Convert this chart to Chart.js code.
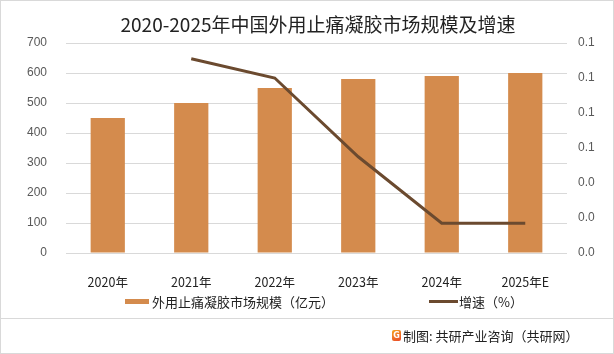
<!DOCTYPE html>
<html>
<head>
<meta charset="utf-8">
<script src="https://cdn.jsdelivr.net/npm/chart.js@4"></script>
<style>
  body { margin: 0; background: #fff; }
  #wrap { width: 614px; height: 354px; position: relative; }
</style>
</head>
<body>
<div id="wrap"><canvas id="marketChart" width="614" height="354"></canvas></div>
<script>
const years = ['2020年', '2021年', '2022年', '2023年', '2024年', '2025年E'];
const marketSize = [450, 500, 550, 580, 590, 600];
const growthRate = [null, 0.111, 0.100, 0.055, 0.017, 0.017];
const titleText = '2020-2025年中国外用止痛凝胶市场规模及增速';
const sizeLabel = '外用止痛凝胶市场规模（亿元）';
const rateLabel = '增速（%）';
const sourceText = '制图: 共研产业咨询（共研网）';

const barColor = '#D48B4D';
const lineColor = '#6B4A2F';
const cjk = '"Noto Sans CJK SC", "Noto Sans", sans-serif';

const decor = {
  id: 'decor',
  afterDraw(chart) {
    const c = chart.ctx;
    c.save();
    // frame
    c.strokeStyle = '#d9d9d9';
    c.lineWidth = 1;
    c.strokeRect(0.5, 0.5, 613, 353);
    c.beginPath();
    c.moveTo(0, 318.5);
    c.lineTo(614, 318.5);
    c.stroke();

    // title
    c.fillStyle = '#222';
    c.font = '19px ' + cjk;
    c.textAlign = 'center';
    c.textBaseline = 'middle';
    c.fillText(titleText, 318, 25);

    // legend
    c.font = '13px ' + cjk;
    c.textAlign = 'left';
    c.fillStyle = barColor;
    c.fillRect(125, 299, 24, 5);
    c.fillStyle = '#222';
    c.fillText(sizeLabel, 152, 302);
    c.strokeStyle = lineColor;
    c.lineWidth = 3;
    c.beginPath();
    c.moveTo(429, 301.5);
    c.lineTo(458, 301.5);
    c.stroke();
    c.fillText(rateLabel, 459, 302);

    // source
    const g = c.createLinearGradient(393, 330, 400, 342);
    g.addColorStop(0, '#F6A21E');
    g.addColorStop(1, '#E8452C');
    c.fillStyle = g;
    c.beginPath();
    c.roundRect(392, 330, 9, 11, 2);
    c.fill();
    c.fillStyle = '#fff';
    c.font = 'bold 8px "DejaVu Sans", sans-serif';
    c.textAlign = 'center';
    c.fillText('G', 396.5, 336);
    c.fillStyle = '#222';
    c.font = '13px ' + cjk;
    c.textAlign = 'left';
    c.fillText(sourceText, 403, 336);
    c.restore();
  }
};

new Chart(document.getElementById('marketChart'), {
  data: {
    labels: years,
    datasets: [
      {
        type: 'line',
        label: rateLabel,
        data: growthRate,
        yAxisID: 'y1',
        borderColor: lineColor,
        borderWidth: 3,
        pointRadius: 0,
        tension: 0,
        order: 0
      },
      {
        type: 'bar',
        label: sizeLabel,
        data: marketSize,
        yAxisID: 'y',
        backgroundColor: barColor,
        barPercentage: 0.82,
        categoryPercentage: 0.5,
        order: 1
      }
    ]
  },
  options: {
    responsive: false,
    animation: false,
    layout: { padding: { top: 43, bottom: 65, left: 0, right: 0 } },
    plugins: {
      legend: { display: false },
      title: { display: false },
      tooltip: { enabled: false }
    },
    scales: {
      x: {
        grid: { display: false },
        border: { display: false },
        ticks: {
          color: '#222',
          font: { size: 12.5, family: cjk },
          padding: 14,
          maxRotation: 0
        },
        afterFit(s) { s.height = 36; }
      },
      y: {
        position: 'left',
        min: 0,
        max: 700,
        ticks: {
          stepSize: 100,
          color: '#595959',
          font: { size: 12, family: 'Liberation Sans, Arial, sans-serif' },
          padding: 19
        },
        grid: { color: '#d9d9d9', drawTicks: false },
        border: { display: false },
        afterFit(s) { s.width = 66; }
      },
      y1: {
        position: 'right',
        min: 0,
        max: 0.12,
        ticks: {
          stepSize: 0.02,
          color: '#595959',
          font: { size: 12, family: 'Liberation Sans, Arial, sans-serif' },
          padding: 11,
          callback: v => v.toFixed(1)
        },
        grid: { display: false, drawTicks: false },
        border: { display: false },
        afterFit(s) { s.width = 47; }
      }
    }
  },
  plugins: [decor]
});
</script>
</body>
</html>
